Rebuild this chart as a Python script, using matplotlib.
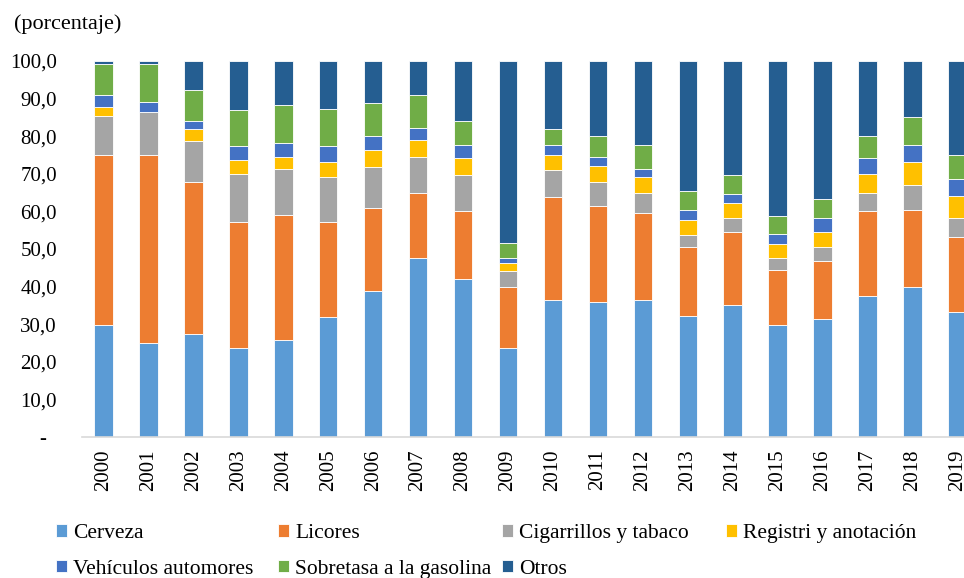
import numpy as np
import matplotlib
matplotlib.use("Agg")
from matplotlib import pyplot as plt

plt.rcParams['font.family'] = ['Liberation Serif', 'DejaVu Serif']

years = [str(y) for y in range(2000, 2020)]
cerveza = [29.7, 25.0, 27.4, 23.8, 25.9, 31.9, 38.7, 47.7, 41.9, 23.8,
           36.5, 35.9, 36.5, 32.3, 35.1, 29.7, 31.4, 37.4, 40.0, 33.3]
licores = [45.2, 49.9, 40.4, 33.5, 33.2, 25.4, 22.2, 17.3, 18.1, 16.2,
           27.2, 25.5, 23.1, 18.2, 19.4, 14.8, 15.4, 22.6, 20.5, 19.9]
cigarrillos = [10.4, 11.5, 10.8, 12.6, 12.3, 11.8, 10.9, 9.6, 9.6, 4.2,
               7.2, 6.3, 5.4, 3.2, 3.7, 3.2, 3.7, 5.0, 6.4, 5.0]
registri = [2.4, 0.0, 3.2, 3.9, 3.2, 4.1, 4.6, 4.5, 4.5, 2.2,
            4.1, 4.5, 4.1, 4.1, 4.0, 3.7, 4.0, 5.0, 6.3, 5.9]
vehiculos = [3.2, 2.7, 2.3, 3.5, 3.6, 4.1, 3.6, 3.1, 3.6, 1.3,
             2.7, 2.4, 2.3, 2.7, 2.4, 2.7, 3.7, 4.1, 4.5, 4.5]
sobretasa = [8.2, 10.0, 8.2, 9.6, 10.0, 10.0, 8.7, 8.7, 6.4, 3.8,
             4.1, 5.4, 6.3, 5.0, 5.0, 4.6, 5.0, 5.9, 7.3, 6.4]
otros = [0.9, 0.9, 7.7, 13.1, 11.8, 12.7, 11.3, 9.1, 15.9, 48.5,
         18.2, 20.0, 22.3, 34.5, 30.4, 41.3, 36.8, 20.0, 15.0, 25.0]

series = [cerveza, licores, cigarrillos, registri, vehiculos, sobretasa, otros]
names = ['Cerveza', 'Licores', 'Cigarrillos y tabaco', 'Registri y anotación',
         'Vehículos automores', 'Sobretasa a la gasolina', 'Otros']
colors = ['#5B9BD5', '#ED7D31', '#A5A5A5', '#FFC000',
          '#4472C4', '#70AD47', '#255E91']

yticks = [0, 10, 20, 30, 40, 50, 60, 70, 80, 90, 100]
ytick_labels = ['-  ', '10,0', '20,0', '30,0', '40,0', '50,0',
                '60,0', '70,0', '80,0', '90,0', '100,0']

W, H = 964, 578
fig = plt.figure(figsize=(W / 100, H / 100), dpi=100)
ax = fig.add_axes([82 / W, (H - 437) / H, (W - 82) / W, (437 - 61) / H])

x = np.arange(len(years))
bottom = np.zeros(len(years))
bars = []
for vals, name, c in zip(series, names, colors):
    b = ax.bar(x, vals, 0.41, bottom=bottom, color=c, edgecolor='white',
               linewidth=0.6, label=name)
    bars.append(b)
    bottom += np.array(vals)

ax.set_xlim(-0.479, 19.147)
ax.set_ylim(0, 100)
ax.set_yticks(yticks)
ax.set_yticklabels(ytick_labels)
ax.set_xticks(x)
ax.set_xticklabels(years, rotation=90)
ax.tick_params(axis='y', length=0, pad=18, labelsize=15)
ax.tick_params(axis='x', length=0, pad=9, labelsize=15)
for s in ['top', 'right', 'left']:
    ax.spines[s].set_visible(False)
ax.spines['bottom'].set_color('#D9D9D9')
ax.spines['bottom'].set_linewidth(1.2)

fig.text(14 / W, 1 - 24 / H, '(porcentaje)', fontsize=16, va='center', ha='left')

# leyenda en 4 columnas, una leyenda por columna
columns = [[0, 4], [1, 5], [2, 6], [3]]
col_x = [56, 278, 502, 726]
for idx, cx in zip(columns, col_x):
    fig.legend([bars[i] for i in idx], [names[i] for i in idx],
               loc='upper left', bbox_to_anchor=(cx / W, 1 - 524 / H),
               ncol=1, frameon=False, fontsize=15.5, handlelength=0.51,
               handleheight=0.51, handletextpad=0.28,
               labelspacing=0.78, borderpad=0, borderaxespad=0)

fig.savefig('out.png', dpi=100)
